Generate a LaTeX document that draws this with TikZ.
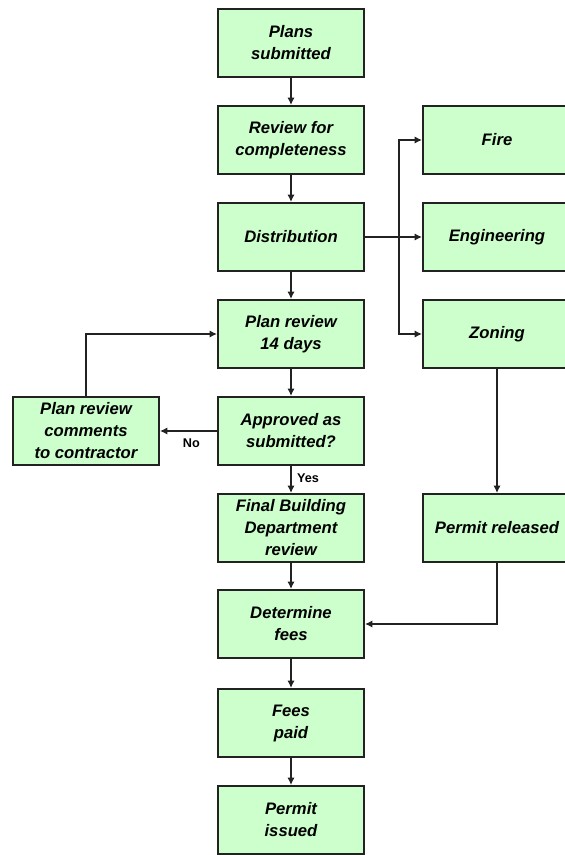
\documentclass[tikz,border=0pt]{standalone}
\usepackage{fontspec}
\setmainfont{Liberation Sans}
\usetikzlibrary{arrows.meta}
\definecolor{boxgreen}{HTML}{CCFFCC}
\definecolor{boxline}{HTML}{222222}
\tikzset{
	stage/.style={draw=boxline,fill=boxgreen,line width=1.5pt,minimum width=109.5pt,minimum height=51pt,inner sep=2pt,align=center,font=\bfseries\itshape\fontsize{12.5}{16.5}\selectfont},
	wide/.style={stage,minimum width=111pt},
	flow/.style={draw=boxline,line width=1.1pt,-{Latex[length=5.5pt,width=5.5pt]}},
	tag/.style={font=\bfseries\fontsize{9.5}{11}\selectfont,inner sep=1pt}
}
\begin{document}
\begin{tikzpicture}[x=0.75pt,y=-0.75pt]
			\useasboundingbox (0,0) rectangle (564,855);
			% main column
			\node[stage] (submitted) at (291,43) {Plans\\submitted};
			\node[stage] (complete) at (291,140) {Review for\\completeness};
			\node[stage] (dist) at (291,237) {Distribution};
			\node[stage] (review) at (291,334) {Plan review\\14 days};
			\node[stage] (approved) at (291,431) {Approved as\\submitted?};
			\node[stage] (final) at (291,528) {Final Building\\Department\\review};
			\node[stage] (fees) at (291,624) {Determine\\fees};
			\node[stage] (paid) at (291,723) {Fees\\paid};
			\node[stage] (issued) at (291,820) {Permit\\issued};
			% side boxes
			\node[stage] (comments) at (86,431) {Plan review\\comments\\to contractor};
			\node[wide] (fire) at (497,140) {Fire};
			\node[wide] (eng) at (497,237) {Engineering};
			\node[wide] (zoning) at (497,334) {Zoning};
			\node[wide] (released) at (497,528) {Permit released};
			\coordinate (split) at (399,237);
			% connectors
			\draw[flow] (submitted) -- (complete);
			\draw[flow] (complete) -- (dist);
			\draw[flow] (dist) -- (review);
			\draw[flow] (review) -- (approved);
			\draw[flow] (approved) -- node[tag,right=3pt,pos=0.45] {Yes} (final);
			\draw[flow] (final) -- (fees);
			\draw[flow] (fees) -- (paid);
			\draw[flow] (paid) -- (issued);
			\draw[flow] (dist) -- (eng);
			\draw[flow] (split) |- (fire);
			\draw[flow] (split) |- (zoning);
			\draw[flow] (zoning) -- (released);
			\draw[flow] (released) |- (fees);
			\draw[flow] (approved) -- node[tag,below=4pt,pos=0.45] {No} (comments);
			\draw[flow] (comments) |- (review);
		\end{tikzpicture}
\end{document}
